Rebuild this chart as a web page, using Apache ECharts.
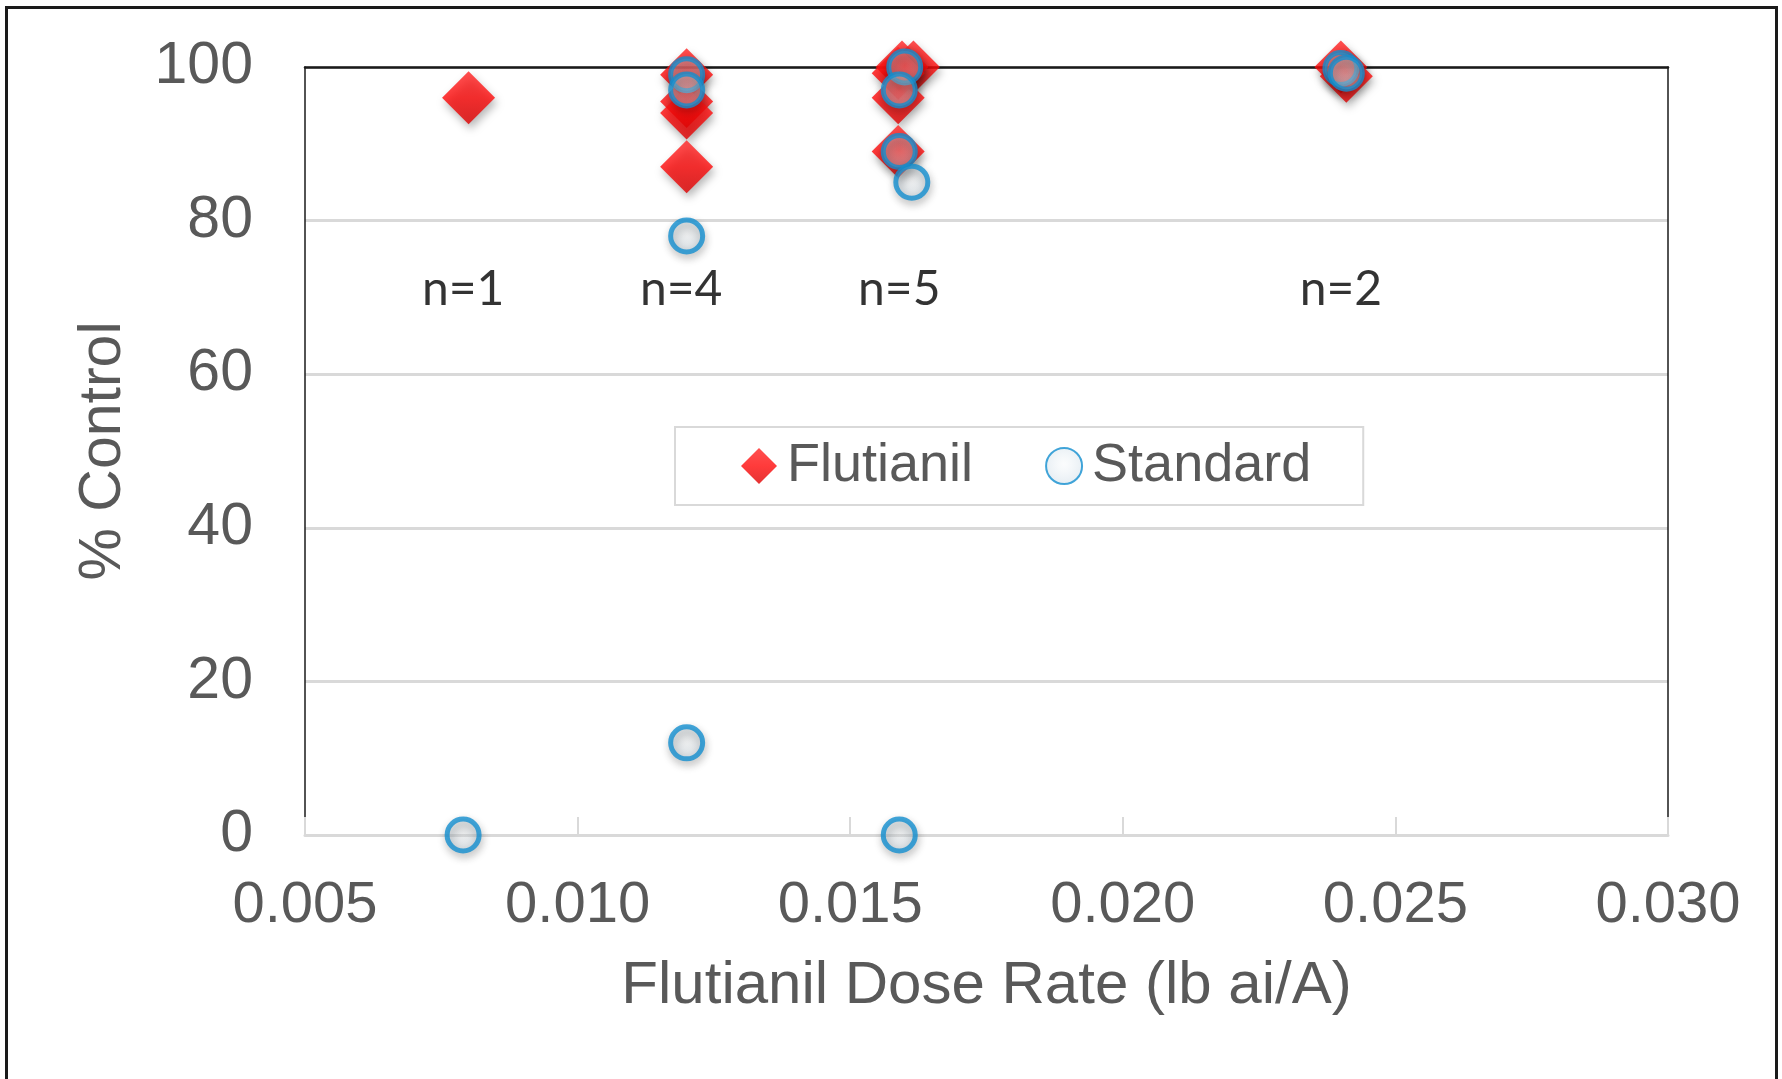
<!DOCTYPE html>
<html>
<head>
<meta charset="utf-8">
<script src="https://cdn.jsdelivr.net/npm/echarts@6/dist/echarts.min.js"></script>
<style>
html,body{margin:0;padding:0;background:#fff;overflow:hidden;}
#c{position:absolute;left:0;top:0;width:1782px;height:1079px;}
#frame{position:absolute;left:5px;top:6px;width:1767px;height:1200px;border:3px solid #1a1a1a;pointer-events:none;}
</style>
</head>
<body>
<div id="c"></div>
<div id="frame"></div>
<script>
// Data
const flutianilX = [0.008, 0.012, 0.012, 0.012, 0.012, 0.01616, 0.01595, 0.01588, 0.01588, 0.01588, 0.024, 0.0241];
const flutianilY = [96, 99, 95.5, 94, 87, 100, 100, 99.2, 96, 89, 100, 98.8];
const standardX = [0.0079, 0.012, 0.012, 0.012, 0.012, 0.016, 0.0159, 0.0159, 0.01613, 0.0159, 0.024, 0.0241];
const standardY = [0, 99, 97, 78, 12, 100, 97, 89, 85, 0, 99.8, 99.2];
const nLabelX = [0.0079, 0.0119, 0.0159, 0.024];
const nLabelText = ['n=1', 'n=4', 'n=5', 'n=2'];
const nLabelY = 71;
const xTicks = [0.005, 0.010, 0.015, 0.020, 0.025, 0.030];
const yTicks = [0, 20, 40, 60, 80, 100];

const zip = (xs, ys) => xs.map((x, i) => [x, ys[i]]);
const txt = '#595959';
const font = '"Liberation Sans", Arial, sans-serif';

const chart = echarts.init(document.getElementById('c'), null, {renderer: 'canvas'});
const option = {
  animation: false,
  backgroundColor: '#fff',
  grid: {left: 305, right: 114, top: 67, bottom: 244, show: false},
  legend: {
    left: 675, top: 427,
    orient: 'horizontal',
    data: ['Flutianil', 'Standard'],
    padding: [12, 52, 12, 66],
    itemGap: 72,
    itemWidth: 36, itemHeight: 36,
    borderColor: '#d9d9d9', borderWidth: 2,
    backgroundColor: '#fff',
    textStyle: {fontFamily: font, fontSize: 54, color: txt, lineHeight: 54, padding: [0, 0, 0, 5]}
  },
  xAxis: [{
    type: 'value', min: xTicks[0], max: xTicks[xTicks.length - 1], interval: 0.005,
    name: 'Flutianil Dose Rate (lb ai/A)', nameLocation: 'middle', nameGap: 121,
    nameTextStyle: {fontFamily: font, fontSize: 60, color: txt},
    axisLine: {show: true, lineStyle: {color: '#d9d9d9', width: 3}},
    axisTick: {show: true, inside: true, length: 18, lineStyle: {color: '#d9d9d9', width: 2}},
    axisLabel: {fontFamily: font, fontSize: 58, color: txt, margin: 42, formatter: v => v.toFixed(3)},
    splitLine: {show: false}
  }, {
    type: 'value', position: 'top', min: xTicks[0], max: xTicks[xTicks.length - 1], interval: 0.005,
    axisLine: {show: true, onZero: false, lineStyle: {color: '#1a1a1a', width: 2.5}},
    axisTick: {show: false}, axisLabel: {show: false}, splitLine: {show: false}
  }],
  yAxis: [{
    type: 'value', min: yTicks[0], max: yTicks[yTicks.length - 1], interval: 20,
    name: '% Control', nameLocation: 'middle', nameGap: 172, nameRotate: 90,
    nameTextStyle: {fontFamily: font, fontSize: 59, color: txt},
    axisLine: {show: true, lineStyle: {color: '#1a1a1a', width: 1.5}},
    axisTick: {show: false},
    axisLabel: {fontFamily: font, fontSize: 59, color: txt, margin: 52},
    splitLine: {show: true, lineStyle: {color: '#d9d9d9', width: 3}}
  }, {
    type: 'value', position: 'right', min: yTicks[0], max: yTicks[yTicks.length - 1], interval: 20,
    axisLine: {show: true, onZero: false, lineStyle: {color: '#1a1a1a', width: 1.5}},
    axisTick: {show: false}, axisLabel: {show: false}, splitLine: {show: false}
  }],
  series: [{
    name: 'Flutianil', type: 'scatter', clip: false,
    symbol: 'diamond', symbolSize: 53,
    data: zip(flutianilX, flutianilY),
    itemStyle: {
      color: new echarts.graphic.LinearGradient(0, 0, 0, 1, [
        {offset: 0, color: '#ff2424'}, {offset: 0.5, color: '#ff0a0a'}, {offset: 1, color: '#dd0000'}
      ]),
      shadowBlur: 9, shadowColor: 'rgba(0,0,0,0.35)', shadowOffsetX: 2, shadowOffsetY: 5
    },
    z: 3
  }, {
    name: 'Standard', type: 'scatter', clip: false,
    symbol: 'circle', symbolSize: 32,
    data: zip(standardX, standardY),
    itemStyle: {
      color: new echarts.graphic.RadialGradient(0.5, 0.45, 0.55, [
        {offset: 0, color: 'rgba(240,245,248,0.35)'}, {offset: 1, color: 'rgba(200,216,228,0.6)'}
      ]),
      borderColor: '#138fd0', borderWidth: 5,
      shadowBlur: 8, shadowColor: 'rgba(0,0,0,0.3)', shadowOffsetX: 1, shadowOffsetY: 4
    },
    z: 4
  }, {
    name: 'nLabels', type: 'scatter', symbolSize: 0, silent: true,
    data: nLabelX.map((x, i) => ({value: [x, nLabelY], label: {formatter: nLabelText[i]}})),
    label: {show: true, position: 'inside', fontFamily: 'Lato, "Open Sans", sans-serif', fontSize: 48, color: '#000'},
    z: 5
  }]
};
chart.setOption(option);
</script>
</body>
</html>
